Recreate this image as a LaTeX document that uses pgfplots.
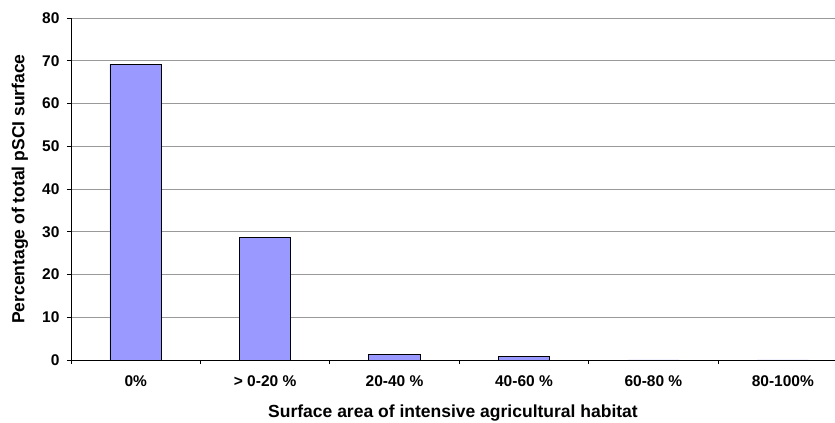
\documentclass[border=0pt]{standalone}
\usepackage{pgfplots}
\pgfplotsset{compat=1.18}
\usepackage{fontspec}
\setmainfont{Liberation Sans}
\definecolor{barblue}{HTML}{9999FF}
\begin{document}
\begin{tikzpicture}
\begin{axis}[
  name=ax,
  scale only axis,
  width=764pt, height=342pt,
  xmin=-0.5, xmax=5.403,
  ymin=0, ymax=80,
  ytick={0,10,...,80},
  xtick={0,1,2,3,4,5},
  xticklabels={0\%, > 0-20 \%, 20-40 \%, 40-60 \%, 60-80 \%, 80-100\%},
  minor xtick={-0.5,0.5,1.5,2.5,3.5,4.5},
  major x tick style={draw=none},
  minor tick length=4pt,
  major tick length=4pt,
  tick align=outside,
  axis x line*=bottom, axis y line*=left,
  axis line style={black, line width=0.8pt},
  tick style={black, line width=0.8pt},
  ymajorgrids, grid style={gray!80, line width=0.7pt},
  /pgf/number format/assume math mode=true,
  tick label style={font=\fontsize{15.5}{17}\selectfont\bfseries},
  xticklabel style={yshift=-8pt},
  yticklabel style={xshift=-4pt},
  xlabel={Surface area of intensive agricultural habitat},
  ylabel={Percentage of total pSCI surface},
  every axis x label/.style={at={(axis description cs:0.5,-0.155)}, anchor=center, font=\fontsize{17.5}{20}\selectfont\bfseries},
  every axis y label/.style={at={(axis description cs:-0.0668,0.5)}, anchor=center, rotate=90, font=\fontsize{17.5}{20}\selectfont\bfseries},
  clip=false,
]
\addplot[ybar, bar width=51.5pt, fill=barblue, draw=black, line width=0.8pt]
  coordinates {(0,69.2) (1,28.6) (2,1.4) (3,0.8) (4,0) (5,0)};
\end{axis}
\pgfresetboundingbox
\path ([xshift=-71pt,yshift=-63pt]ax.south west) rectangle ([yshift=18pt]ax.north east);
\end{tikzpicture}
\end{document}
